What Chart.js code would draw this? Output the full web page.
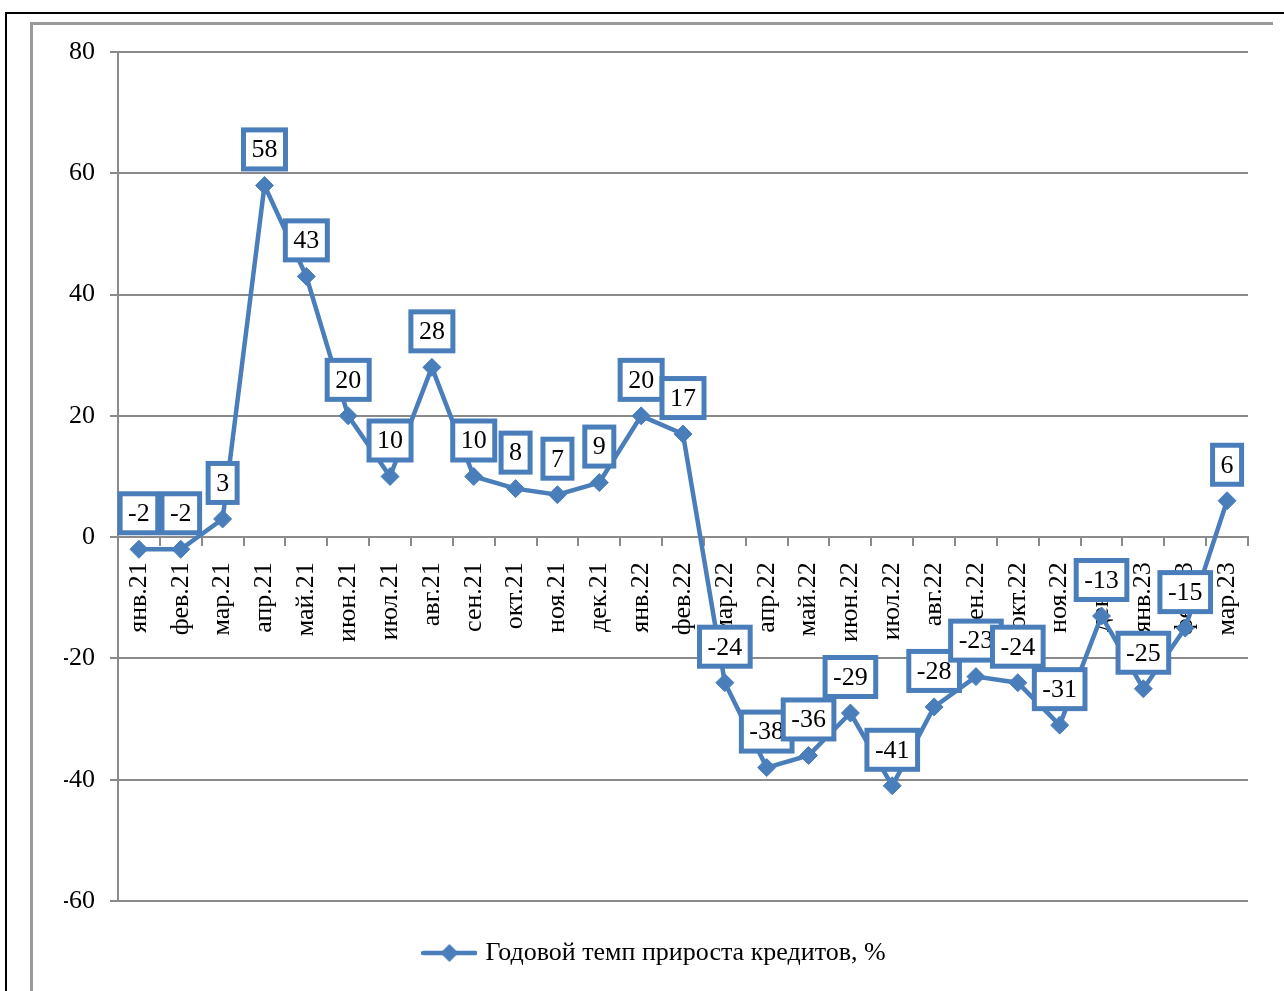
<!DOCTYPE html>
<html>
<head>
<meta charset="utf-8">
<script src="https://cdn.jsdelivr.net/npm/chart.js@4/dist/chart.umd.min.js"></script>
<style>
  html, body { margin: 0; padding: 0; background: #fff; }
  #wrap { width: 1284px; height: 991px; position: relative; }
</style>
</head>
<body>
<div id="wrap"><canvas id="c" width="1284" height="991"></canvas></div>
<script>
const categories = ['янв.21','фев.21','мар.21','апр.21','май.21','июн.21','июл.21','авг.21','сен.21','окт.21','ноя.21','дек.21',
  'янв.22','фев.22','мар.22','апр.22','май.22','июн.22','июл.22','авг.22','сен.22','окт.22','ноя.22','дек.22',
  'янв.23','фев.23','мар.23'];
const creditGrowth = [-2, -2, 3, 58, 43, 20, 10, 28, 10, 8, 7, 9, 20, 17, -24, -38, -36, -29, -41, -28, -23, -24, -31, -13, -25, -15, 6];
const seriesName = 'Годовой темп прироста кредитов, %';
const yMin = -60, yMax = 80, yStep = 20;

const BLUE = '#4a7ebb';
const GRID = '#8a8a8a';
const FONT = '"Liberation Serif", "Times New Roman", serif';

// legend marker image: line + diamond
const mk = document.createElement('canvas');
mk.width = 56; mk.height = 20;
(function(){
  const g = mk.getContext('2d');
  g.strokeStyle = BLUE; g.lineWidth = 4.5; g.lineCap = 'round';
  g.beginPath(); g.moveTo(2, 10); g.lineTo(54, 10); g.stroke();
  g.fillStyle = BLUE;
  g.beginPath(); g.moveTo(28, 1); g.lineTo(37, 10); g.lineTo(28, 19); g.lineTo(19, 10); g.closePath(); g.fill();
})();

const framePlugin = {
  id: 'frame',
  beforeDraw(chart) {
    const ctx = chart.ctx;
    ctx.save();
    ctx.strokeStyle = '#000'; ctx.lineWidth = 2;
    ctx.beginPath(); ctx.moveTo(6, 991); ctx.lineTo(6, 13); ctx.lineTo(1284, 13); ctx.stroke();
    ctx.strokeStyle = '#9a9a9a'; ctx.lineWidth = 3;
    ctx.beginPath(); ctx.moveTo(31.5, 991); ctx.lineTo(31.5, 23.5); ctx.lineTo(1273, 23.5); ctx.stroke();
    ctx.restore();
  }
};

const labelPlugin = {
  id: 'boxLabels',
  afterDatasetsDraw(chart) {
    const ctx = chart.ctx;
    const meta = chart.getDatasetMeta(0);
    const data = chart.data.datasets[0].data;
    ctx.save();
    ctx.font = '26px ' + FONT;
    ctx.textAlign = 'center';
    ctx.textBaseline = 'middle';
    meta.data.forEach((pt, i) => {
      const txt = String(data[i]);
      const tw = ctx.measureText(txt).width;
      const w = tw + 16, h = 39;
      const cx = pt.x, cy = pt.y - 36;
      ctx.fillStyle = '#fff';
      ctx.fillRect(cx - w / 2, cy - h / 2, w, h);
      ctx.strokeStyle = BLUE; ctx.lineWidth = 5;
      ctx.strokeRect(cx - w / 2, cy - h / 2, w, h);
      ctx.fillStyle = '#000';
      ctx.fillText(txt, cx, cy + 1);
    });
    ctx.restore();
  }
};

new Chart(document.getElementById('c'), {
  type: 'line',
  data: {
    labels: categories,
    datasets: [{
      label: seriesName,
      data: creditGrowth,
      borderColor: BLUE,
      backgroundColor: BLUE,
      borderWidth: 4.5,
      pointStyle: 'rectRot',
      pointRadius: 9,
      pointBorderWidth: 1,
      pointBackgroundColor: BLUE,
      pointBorderColor: BLUE,
      tension: 0,
      fill: false
    }]
  },
  options: {
    responsive: false,
    animation: false,
    devicePixelRatio: 1,
    layout: { padding: { left: 64, right: 36, top: 52, bottom: 15 } },
    plugins: {
      tooltip: { enabled: false },
      legend: {
        display: true,
        position: 'bottom',
        labels: {
          usePointStyle: true,
          pointStyle: mk,
          pointStyleWidth: 46,
          padding: 39,
          color: '#000',
          font: { family: FONT, size: 26 }
        }
      }
    },
    scales: {
      x: {
        position: { y: 0 },
        offset: true,
        grid: { offset: true, drawOnChartArea: false, drawTicks: true, tickLength: 8, color: GRID, lineWidth: 2 },
        border: { display: true, color: GRID, width: 2 },
        ticks: { minRotation: 90, maxRotation: 90, autoSkip: false, padding: 17, color: '#000', font: { family: FONT, size: 26 } }
      },
      y: {
        min: yMin, max: yMax,
        afterFit(scale) { scale.width = 54; },
        grid: { drawTicks: true, tickLength: 8, color: GRID, lineWidth: 2 },
        border: { display: true, color: GRID, width: 2 },
        ticks: { stepSize: yStep, padding: 15, color: '#000', font: { family: FONT, size: 26 } }
      }
    }
  },
  plugins: [framePlugin, labelPlugin]
});
</script>
</body>
</html>
